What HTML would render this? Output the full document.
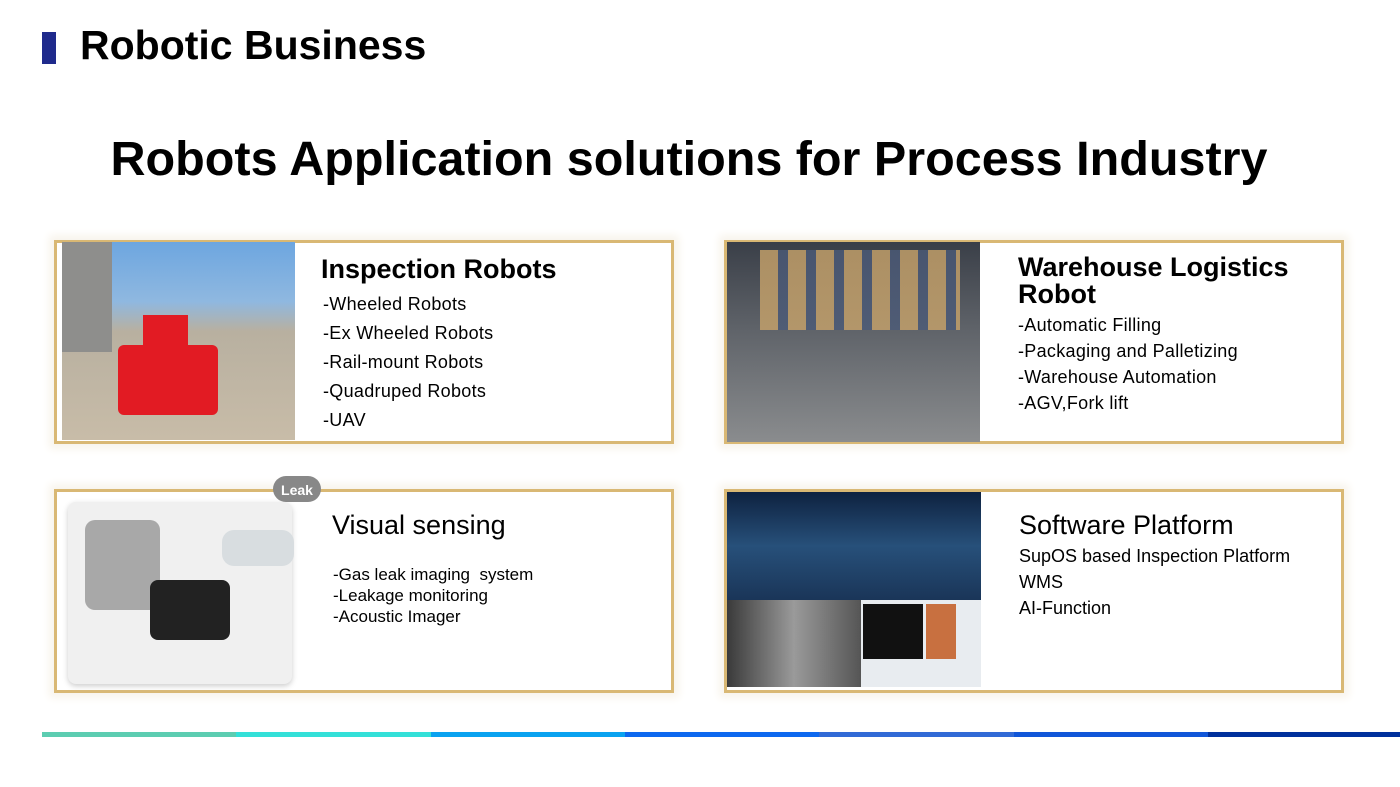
<!DOCTYPE html>
<html><head><meta charset="utf-8"><style>
body{margin:0;width:1400px;height:787px;background:#fff;position:relative;overflow:hidden;font-family:"Liberation Sans",sans-serif;}
.a{position:absolute}
.card{position:absolute;border:3px solid #d9b874;background:#fff;box-shadow:0 0 8px 5px #f8f4ec}
.t{position:absolute;color:#000}
.l{font-size:18px;line-height:29px;letter-spacing:.3px}
</style></head><body>
<div class="a" style="left:42px;top:32px;width:14px;height:32px;background:#1f2a8c"></div>
<div class="t" style="left:80px;top:22px;font-size:41px;font-weight:bold">Robotic Business</div>
<div class="t" style="left:0;width:1378px;text-align:center;top:131px;font-size:48.5px;font-weight:bold">Robots Application solutions for Process Industry</div>

<div class="card" style="left:54px;top:240px;width:614px;height:198px"></div>
<div class="a" style="left:62px;top:242px;width:233px;height:198px;background:linear-gradient(#6da6e0 0,#8fb8e0 30%,#b8b0a0 45%,#c8bca8 100%)"></div>
<div class="a" style="left:62px;top:242px;width:50px;height:110px;background:#8e8e8c"></div>
<div class="a" style="left:118px;top:345px;width:100px;height:70px;background:#e21b23;border-radius:6px"></div>
<div class="a" style="left:143px;top:315px;width:45px;height:35px;background:#e21b23"></div>
<div class="t" style="left:321px;top:254px;font-size:27px;font-weight:bold">Inspection Robots</div>
<div class="t l" style="left:323px;top:290px">-Wheeled Robots<br>-Ex Wheeled Robots<br>-Rail-mount Robots<br>-Quadruped Robots<br>-UAV</div>

<div class="card" style="left:724px;top:240px;width:614px;height:198px"></div>
<div class="a" style="left:727px;top:242px;width:253px;height:200px;background:linear-gradient(#3a3f48 0,#60646a 45%,#8a8c8e 100%)"></div>
<div class="a" style="left:760px;top:250px;width:200px;height:80px;background:repeating-linear-gradient(90deg,#c8a36a 0 18px,#4b5a78 18px 28px);opacity:.8"></div>
<div class="t" style="left:1018px;top:254px;font-size:27px;font-weight:bold;line-height:27px">Warehouse Logistics<br>Robot</div>
<div class="t l" style="left:1018px;top:312px;line-height:26px">-Automatic Filling<br>-Packaging and Palletizing<br>-Warehouse Automation<br>-AGV,Fork lift</div>

<div class="card" style="left:54px;top:489px;width:614px;height:198px"></div>
<div class="a" style="left:68px;top:502px;width:224px;height:182px;background:#f0f0f0;border-radius:8px;box-shadow:0 2px 6px #ccc"></div>
<div class="a" style="left:85px;top:520px;width:75px;height:90px;background:#a8a8a8;border-radius:10px"></div>
<div class="a" style="left:150px;top:580px;width:80px;height:60px;background:#222;border-radius:8px"></div>
<div class="a" style="left:222px;top:530px;width:72px;height:36px;background:#d8dde0;border-radius:12px"></div>
<div class="a" style="left:273px;top:476px;width:48px;height:26px;background:#888;border-radius:13px;color:#fff;font-size:14px;font-weight:bold;text-align:center;line-height:28px">Leak</div>
<div class="t" style="left:332px;top:510px;font-size:27px">Visual sensing</div>
<div class="t" style="left:333px;top:564px;font-size:17px;line-height:21px">-Gas leak imaging&nbsp; system<br>-Leakage monitoring<br>-Acoustic Imager</div>

<div class="card" style="left:724px;top:489px;width:614px;height:198px"></div>
<div class="a" style="left:727px;top:492px;width:254px;height:108px;background:linear-gradient(#0e2240,#27507a 50%,#1a3558)"></div>
<div class="a" style="left:727px;top:600px;width:134px;height:87px;background:linear-gradient(90deg,#3a3a3a,#9a9a9a 50%,#555)"></div>
<div class="a" style="left:861px;top:600px;width:120px;height:87px;background:#e8ecf0"></div>
<div class="a" style="left:863px;top:604px;width:60px;height:55px;background:#111"></div>
<div class="a" style="left:926px;top:604px;width:30px;height:55px;background:#c87040"></div>
<div class="t" style="left:1019px;top:510px;font-size:27px">Software Platform</div>
<div class="t" style="left:1019px;top:543px;font-size:18px;line-height:26px">SupOS based Inspection Platform<br>WMS<br>AI-Function</div>

<div class="a" style="left:42px;top:732px;height:5px;width:194px;background:#5ccdb1"></div>
<div class="a" style="left:236px;top:732px;height:5px;width:195px;background:#33e0d8"></div>
<div class="a" style="left:431px;top:732px;height:5px;width:194px;background:#0aa2f0"></div>
<div class="a" style="left:625px;top:732px;height:5px;width:194px;background:#0d68ef"></div>
<div class="a" style="left:819px;top:732px;height:5px;width:195px;background:#316ad6"></div>
<div class="a" style="left:1014px;top:732px;height:5px;width:194px;background:#1156d8"></div>
<div class="a" style="left:1208px;top:732px;height:5px;width:192px;background:#00309c"></div>
</body></html>
